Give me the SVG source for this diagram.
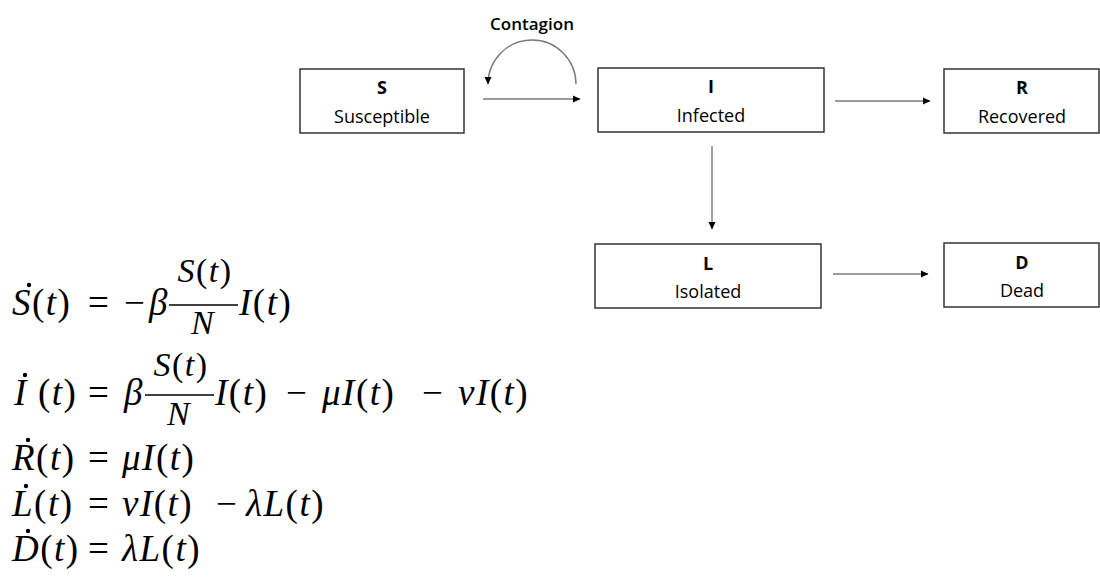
<svg xmlns="http://www.w3.org/2000/svg" width="1100" height="587" viewBox="0 0 1100 587">
<style>
.box{fill:#fff;stroke:#333;stroke-width:1.5}
.lbl{font-family:"Open Sans","Liberation Sans",sans-serif;font-size:18px;fill:#000;text-anchor:middle}
.b{font-weight:bold}
.conn{fill:none;stroke:#7a7a7a;stroke-width:1.4}
.m{font-family:"Liberation Serif","Times New Roman",serif;font-size:37px;fill:#000;letter-spacing:1.5px}
.f{font-size:34px}
.i{font-style:italic}
.bar{stroke:#000;stroke-width:1.4}
.dot{fill:#000}
</style>
<defs>
<marker id="ah" markerWidth="8" markerHeight="8" refX="7" refY="4" orient="auto" markerUnits="userSpaceOnUse">
<path d="M0,0.5 L7.5,4 L0,7.5 Z" fill="#000"/>
</marker>
</defs>
<rect width="1100" height="587" fill="#fff"/>
<g id="node-S"><rect class="box" x="300" y="69" width="164" height="64"/><text class="lbl b" x="382" y="94">S</text><text class="lbl" x="382" y="123">Susceptible</text></g>
<g id="node-I"><rect class="box" x="598" y="68" width="226" height="64"/><text class="lbl b" x="711" y="93">I</text><text class="lbl" x="711" y="122">Infected</text></g>
<g id="node-R"><rect class="box" x="944" y="69" width="155" height="64"/><text class="lbl b" x="1022" y="94">R</text><text class="lbl" x="1022" y="123">Recovered</text></g>
<g id="node-L"><rect class="box" x="595" y="244" width="226" height="64"/><text class="lbl b" x="708" y="270">L</text><text class="lbl" x="708" y="298">Isolated</text></g>
<g id="node-D"><rect class="box" x="944" y="243" width="155" height="64"/><text class="lbl b" x="1022" y="269">D</text><text class="lbl" x="1022" y="297">Dead</text></g>
<g id="connectors">
<path class="conn" d="M483,99 H580" marker-end="url(#ah)"/>
<path class="conn" d="M576,84 A44,44 0 0 0 488,84" marker-end="url(#ah)"/>
<text class="lbl" x="532" y="30" style="font-size:17px;font-weight:600">Contagion</text>
<path class="conn" d="M835,101 H930" marker-end="url(#ah)"/>
<path class="conn" d="M712,146 V229" marker-end="url(#ah)"/>
<path class="conn" d="M833,274 H928" marker-end="url(#ah)"/>
</g>
<g id="equations">
<!-- eq1 -->
<circle class="dot" cx="29" cy="285" r="2.2"/>
<text class="m" x="12" y="315"><tspan class="i">S</tspan>(<tspan class="i">t</tspan>)<tspan x="88">=</tspan><tspan x="124">−</tspan><tspan x="149" class="i">β</tspan></text>
<text class="m f" x="205" y="282" text-anchor="middle"><tspan class="i">S</tspan>(<tspan class="i">t</tspan>)</text>
<line class="bar" x1="169" y1="305" x2="238" y2="305"/>
<text class="m f i" x="203" y="334" text-anchor="middle">N</text>
<text class="m" x="239" y="315"><tspan class="i">I</tspan>(<tspan class="i">t</tspan>)</text>
<!-- eq2 -->
<circle class="dot" cx="25" cy="375" r="2.2"/>
<text class="m" x="14" y="405"><tspan class="i">I</tspan><tspan x="38">(</tspan><tspan class="i">t</tspan>)<tspan x="88">=</tspan><tspan x="124" class="i">β</tspan></text>
<text class="m f" x="181" y="376" text-anchor="middle"><tspan class="i">S</tspan>(<tspan class="i">t</tspan>)</text>
<line class="bar" x1="145" y1="395" x2="214" y2="395"/>
<text class="m f i" x="179" y="425" text-anchor="middle">N</text>
<text class="m" x="215" y="405"><tspan class="i">I</tspan>(<tspan class="i">t</tspan>)<tspan x="286">−</tspan><tspan x="322" class="i">μI</tspan>(<tspan class="i">t</tspan>)<tspan x="422">−</tspan><tspan x="458" class="i">νI</tspan>(<tspan class="i">t</tspan>)</text>
<!-- eq3 -->
<circle class="dot" cx="28" cy="440" r="2.2"/>
<text class="m" x="12" y="470"><tspan class="i">R</tspan>(<tspan class="i">t</tspan>)<tspan x="88">=</tspan><tspan x="122" class="i">μI</tspan>(<tspan class="i">t</tspan>)</text>
<!-- eq4 -->
<circle class="dot" cx="26" cy="486" r="2.2"/>
<text class="m" x="12" y="516"><tspan class="i">L</tspan>(<tspan class="i">t</tspan>)<tspan x="88">=</tspan><tspan x="122" class="i">νI</tspan>(<tspan class="i">t</tspan>)<tspan x="216">−</tspan><tspan x="246" class="i">λL</tspan>(<tspan class="i">t</tspan>)</text>
<!-- eq5 -->
<circle class="dot" cx="28" cy="531" r="2.2"/>
<text class="m" x="12" y="561"><tspan class="i">D</tspan>(<tspan class="i">t</tspan>)<tspan x="88">=</tspan><tspan x="122" class="i">λL</tspan>(<tspan class="i">t</tspan>)</text>
</g>
</svg>
